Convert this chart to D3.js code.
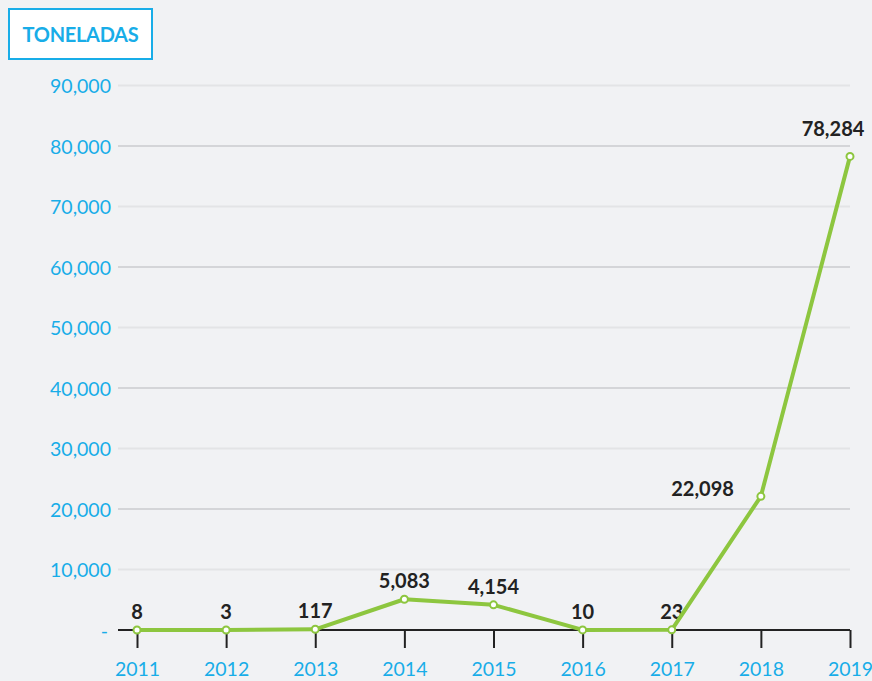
<!DOCTYPE html>
<html>
<head>
<meta charset="utf-8">
<script src="https://cdn.jsdelivr.net/npm/d3@7/dist/d3.min.js"></script>
<style>
  html, body { margin: 0; padding: 0; background: #f1f2f4; }
  svg { display: block; font-family: Lato, "Open Sans", sans-serif; }
</style>
</head>
<body>
<svg id="chart" width="872" height="681"></svg>
<script>
const title = "TONELADAS";
const years = ["2011","2012","2013","2014","2015","2016","2017","2018","2019"];
const values = [8, 3, 117, 5083, 4154, 10, 23, 22098, 78284];
const yTicks = [0, 10000, 20000, 30000, 40000, 50000, 60000, 70000, 80000, 90000];

const W = 872, H = 681;
const blue = "#18ade8", green = "#8dc63f", dark = "#222222";
const svg = d3.select("#chart");
svg.append("rect").attr("width", W).attr("height", H).attr("fill", "#f1f2f4");

const x = d3.scalePoint().domain(years).range([137, 850]);
const y = d3.scaleLinear().domain([0, 90000]).range([630, 85.5]);
const fmt = d3.format(",");

// gridlines
const grid = svg.append("g");
grid.selectAll("line").data(yTicks.filter(d => d > 0)).join("line")
  .attr("x1", 118).attr("x2", 850)
  .attr("y1", d => y(d)).attr("y2", d => y(d))
  .attr("stroke", d => (d / 10000) % 2 === 0 ? "#d4d5d8" : "#e3e4e6")
  .attr("stroke-width", 2);

// y axis labels
const yAxis = d3.axisLeft(y).tickValues(yTicks)
  .tickFormat(d => d === 0 ? "-" : fmt(d)).tickSize(0).tickPadding(0);
const gy = svg.append("g").attr("transform", "translate(111,0)").call(yAxis);
gy.select(".domain").remove();
gy.selectAll("text").attr("fill", blue).attr("font-size", 19.5)
  .attr("font-family", "Lato, sans-serif").attr("dy", "0.36em");
gy.selectAll("text").filter(d => d === 0).attr("dx", -3);

// x axis
const xAxis = d3.axisBottom(x).tickSize(18).tickPadding(14).tickSizeOuter(0);
const gx = svg.append("g").attr("transform", "translate(0,630)").call(xAxis);
gx.select(".domain").remove();
gx.append("line").attr("x1", 118).attr("x2", 850).attr("y1", 0).attr("y2", 0)
  .attr("stroke", dark).attr("stroke-width", 2);
gx.selectAll(".tick line").attr("stroke", dark).attr("stroke-width", 2);
gx.selectAll("text").attr("fill", blue).attr("font-size", 19.5)
  .attr("font-family", "Lato, sans-serif").attr("dy", "0.71em");

// data labels (drawn under the line)
const pts = years.map((yr, i) => ({yr, v: values[i], i}));
const n = pts.length;
svg.append("g").selectAll("text").data(pts).join("text")
  .attr("x", d => d.i === n - 2 ? x(d.yr) - 27 : d.i === n - 1 ? x(d.yr) - 17 : x(d.yr))
  .attr("y", d => d.i === n - 2 ? y(d.v) : d.i === n - 1 ? y(d.v) - 20 : y(d.v) - 11)
  .attr("text-anchor", d => d.i === n - 2 ? "end" : "middle")
  .attr("font-size", 20).attr("font-weight", 700).attr("fill", dark)
  .text(d => fmt(d.v));

// line
const line = d3.line().x(d => x(d.yr)).y(d => y(d.v));
svg.append("path").datum(pts).attr("d", line)
  .attr("fill", "none").attr("stroke", green).attr("stroke-width", 4)
  .attr("stroke-linejoin", "round");
svg.append("g").selectAll("circle").data(pts).join("circle")
  .attr("cx", d => x(d.yr)).attr("cy", d => y(d.v)).attr("r", 3.5)
  .attr("fill", "#ffffff").attr("stroke", green).attr("stroke-width", 2);

// title box
svg.append("rect").attr("x", 9).attr("y", 9).attr("width", 143).attr("height", 50)
  .attr("fill", "#ffffff").attr("stroke", blue).attr("stroke-width", 2);
svg.append("text").attr("x", 80.5).attr("y", 42).attr("text-anchor", "middle")
  .attr("font-size", 20).attr("font-weight", 700).attr("fill", blue)
  .attr("letter-spacing", -0.3).text(title);
</script>
</body>
</html>
